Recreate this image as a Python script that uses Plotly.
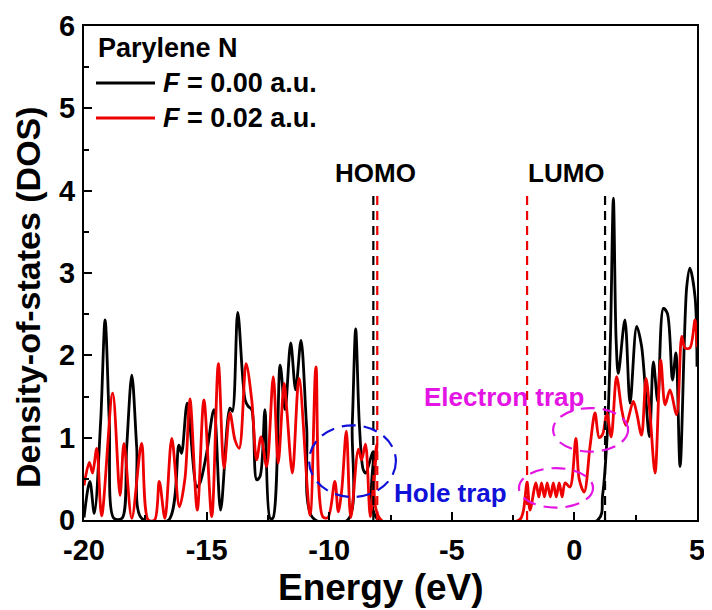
import plotly.graph_objects as go

# ---- data ----
e_black = [-20.0, -19.76, -19.58, -19.32, -19.14, -18.97, -18.78, -18.45, -18.26, -18.05,
           -17.85, -17.65, -16.55, -16.13, -16.02, -15.79, -15.40, -15.27, -15.0, -14.70,
           -14.43, -14.05, -13.95, -13.73, -13.43, -13.30, -13.16, -12.96, -12.82, -12.62,
           -12.41, -12.30, -12.0, -11.80, -11.57, -11.37, -11.15, -10.92, -10.65, -9.25,
           -9.06, -8.92, -8.77, -8.61, -8.51, -8.20, -8.0, 0.95, 1.15, 1.35,
           1.47, 1.59, 1.70, 1.79, 2.06, 2.27, 2.54, 2.74, 3.06, 3.22,
           3.40, 3.63, 3.79, 4.0, 4.14, 4.31, 4.58, 4.71, 4.92, 5.0]
dos_black = [0.03, 0.47, 0.08, 1.20, 2.43, 1.20, 0.02, 0.02, 0.88, 1.76,
             0.88, 0.02, 0.0, 0.91, 0.81, 1.42, 0.40, 0.45, 0.81, 1.34,
             0.12, 1.36, 1.32, 2.52, 1.46, 1.38, 1.34, 0.49, 0.53, 1.34,
             0.02, 0.02, 1.88, 1.34, 2.15, 1.58, 2.18, 1.13, 0.02, 0.0,
             1.16, 2.32, 1.16, 0.61, 0.57, 0.83, 0.0, 0.0, 0.30, 1.10,
             2.20, 3.91, 2.20, 1.78, 2.43, 1.42, 2.35, 2.11, 1.01, 1.92,
             1.44, 2.57, 2.51, 1.70, 2.03, 0.65, 2.83, 3.06, 2.71, 1.86]

e_red = [-20.0, -19.78, -19.65, -19.48, -19.28, -18.83, -18.53, -18.37, -18.05, -17.65,
         -17.38, -17.12, -16.93, -16.70, -16.42, -16.11, -15.88, -15.68, -15.38, -15.11,
         -14.79, -14.52, -14.29, -14.05, -13.84, -13.67, -13.39, -13.16, -12.96, -12.78,
         -12.55, -12.28, -12.08, -11.84, -11.73, -11.50, -11.23, -10.78, -10.54, -10.26,
         -10.05, -9.77, -9.63, -9.49, -9.30, -9.12, -8.81, -8.68, -8.52, -8.32,
         -8.06, -7.88, -2.25, -2.09, -1.93, -1.81, -1.57, -1.45, -1.34, -1.22,
         -1.11, -0.98, -0.86, -0.74, -0.62, -0.50, -0.38, -0.18, 0.06, 0.20,
         0.40, 0.64, 0.84, 1.01, 1.15, 1.32, 1.50, 1.72, 1.93, 2.10,
         2.40, 2.54, 2.74, 2.92, 3.08, 3.29, 3.52, 3.70, 3.90, 4.17,
         4.38, 4.51, 4.71, 4.92, 5.0]
dos_red = [0.42, 0.70, 0.57, 0.87, 0.05, 1.54, 0.30, 0.93, 0.02, 0.93,
           0.0, 0.0, 0.47, 0.02, 0.99, 0.16, 0.51, 1.47, 0.12, 1.46,
           0.04, 1.90, 0.63, 1.30, 0.97, 0.87, 1.90, 1.46, 0.73, 1.01,
           0.65, 1.74, 0.69, 1.66, 1.34, 0.57, 1.72, 0.06, 1.86, 0.04,
           0.03, 0.47, 0.10, 0.36, 1.08, 0.03, 0.86, 0.73, 0.92, 0.04,
           0.92, 0.0, 0.0, 0.10, 0.46, 0.12, 0.45, 0.28, 0.45, 0.28,
           0.45, 0.28, 0.45, 0.28, 0.45, 0.28, 0.45, 0.40, 0.99, 0.49,
           0.34, 0.90, 1.30, 1.00, 1.04, 1.30, 1.01, 1.74, 1.34, 1.15,
           1.44, 1.30, 1.03, 1.72, 1.30, 0.57, 1.94, 1.40, 1.58, 1.28,
           2.23, 2.09, 2.09, 2.43, 2.10]

homo_levels = {"black": -8.20, "red": -8.04}
lumo_levels = {"black": 1.25, "red": -1.93}
level_top = 4.0

x_ticks = [-20, -15, -10, -5, 0, 5]
x_tick_labels = ["-20", "-15", "-10", "-5", "0", "5"]
y_ticks = [0, 1, 2, 3, 4, 5, 6]
y_tick_labels = ["0", "1", "2", "3", "4", "5", "6"]

series_names = ["<i>F</i> = 0.00 a.u.", "<i>F</i> = 0.02 a.u."]
legend_title = "Parylene N"
x_title = "Energy (eV)"
y_title = "Density-of-states (DOS)"

FONT = "Liberation Sans, Arial, sans-serif"
BLACK = "#000000"
RED = "#ee0000"
BLUE = "#1010d8"
MAGENTA = "#e414e4"

# the page body adds an 8px offset; margins compensate so the plot box
# lands at page pixels x 84..697, y 26..520
W, H = 712, 610
L, R, T, B = 76, 23, 18, 98
PL, PR, PT, PB = 84, 697, 26, 520

fig = go.Figure()
fig.add_trace(go.Scatter(x=e_black, y=dos_black, mode="lines", name=series_names[0],
                         line=dict(color=BLACK, width=2.8, shape="spline", smoothing=0.9),
                         showlegend=False))
fig.add_trace(go.Scatter(x=e_red, y=dos_red, mode="lines", name=series_names[1],
                         line=dict(color=RED, width=2.8, shape="spline", smoothing=0.9),
                         showlegend=False))

shapes = []
for key, col in (("black", BLACK), ("red", RED)):
    for lev in (homo_levels[key], lumo_levels[key]):
        shapes.append(dict(type="line", xref="x", yref="y", x0=lev, x1=lev, y0=0, y1=level_top,
                           line=dict(color=col, width=2.2, dash="9px,6px")))

shapes.append(dict(type="circle", xref="x", yref="y", x0=-10.82, x1=-7.28, y0=0.28, y1=1.15,
                   line=dict(color=BLUE, width=2.2, dash="14px,8px")))
shapes.append(dict(type="circle", xref="x", yref="y", x0=-2.26, x1=0.76, y0=0.15, y1=0.63,
                   line=dict(color=MAGENTA, width=2.2, dash="14px,8px")))
shapes.append(dict(type="circle", xref="x", yref="y", x0=-0.87, x1=2.19, y0=0.83, y1=1.36,
                   line=dict(color=MAGENTA, width=2.2, dash="14px,8px")))


def px2paper_x(px):
    return (px - PL) / (PR - PL)


def px2paper_y(py):
    return (PB - py) / (PB - PT)


for py, col in ((83, BLACK), (118, RED)):
    shapes.append(dict(type="line", xref="paper", yref="paper",
                       x0=px2paper_x(96), x1=px2paper_x(155), y0=px2paper_y(py), y1=px2paper_y(py),
                       line=dict(color=col, width=2.8)))

annotations = []
annotations.append(dict(text="<b>" + legend_title + "</b>", xref="paper", yref="paper",
                        x=px2paper_x(96), y=px2paper_y(48), xanchor="left", yanchor="middle",
                        showarrow=False, font=dict(family=FONT, size=27, color=BLACK)))
for py, name in ((83, series_names[0]), (118, series_names[1])):
    annotations.append(dict(text="<b>" + name + "</b>", xref="paper", yref="paper",
                            x=px2paper_x(161), y=px2paper_y(py), xanchor="left", yanchor="middle",
                            showarrow=False, font=dict(family=FONT, size=27, color=BLACK)))

annotations.append(dict(text="<b>HOMO</b>", xref="x", yref="y", x=-8.12, y=4.22,
                        xanchor="center", yanchor="middle", showarrow=False,
                        font=dict(family=FONT, size=26, color=BLACK)))
annotations.append(dict(text="<b>LUMO</b>", xref="x", yref="y", x=-0.34, y=4.22,
                        xanchor="center", yanchor="middle", showarrow=False,
                        font=dict(family=FONT, size=26, color=BLACK)))
annotations.append(dict(text="<b>Electron trap</b>", xref="x", yref="y", x=-6.2, y=1.49,
                        xanchor="left", yanchor="middle", showarrow=False,
                        font=dict(family=FONT, size=26, color=MAGENTA)))
annotations.append(dict(text="<b>Hole trap</b>", xref="x", yref="y", x=-7.45, y=0.33,
                        xanchor="left", yanchor="middle", showarrow=False,
                        font=dict(family=FONT, size=26, color=BLUE)))

# axis titles placed as annotations (reference titles sit slightly off-centre)
annotations.append(dict(text="<b>" + x_title + "</b>", xref="paper", yref="paper",
                        x=px2paper_x(381), y=px2paper_y(587), xanchor="center", yanchor="middle",
                        showarrow=False, borderpad=0,
                        font=dict(family=FONT, size=37, color=BLACK)))
annotations.append(dict(text="<b>" + y_title + "</b>", xref="paper", yref="paper",
                        x=px2paper_x(28), y=px2paper_y(297), xanchor="center", yanchor="middle",
                        textangle=-90, showarrow=False, borderpad=0,
                        font=dict(family=FONT, size=34, color=BLACK)))

axis_common = dict(showline=True, linecolor=BLACK, linewidth=2, mirror=True,
                   ticks="inside", ticklen=8, tickwidth=2, tickcolor=BLACK,
                   showgrid=False, zeroline=False, automargin=False, tickmode="array",
                   tickfont=dict(family=FONT, size=29, color=BLACK, weight="bold"))

fig.update_layout(
    width=W, height=H,
    margin=dict(l=L, r=R, t=T, b=B),
    paper_bgcolor="white", plot_bgcolor="white",
    shapes=shapes, annotations=annotations,
    xaxis=dict(range=[-20, 5], tickvals=x_ticks, ticktext=x_tick_labels, ticklabelstandoff=3,
               minor=dict(ticks="inside", ticklen=5, tickwidth=2, tickmode="linear",
                          tick0=0, dtick=2.5, tickcolor=BLACK),
               **axis_common),
    yaxis=dict(range=[0, 6], tickvals=y_ticks, ticktext=y_tick_labels, ticklabelstandoff=1,
               minor=dict(ticks="inside", ticklen=5, tickwidth=2, tickmode="linear",
                          tick0=0, dtick=0.5, tickcolor=BLACK),
               **axis_common),
)

fig.write_html("out.html")
